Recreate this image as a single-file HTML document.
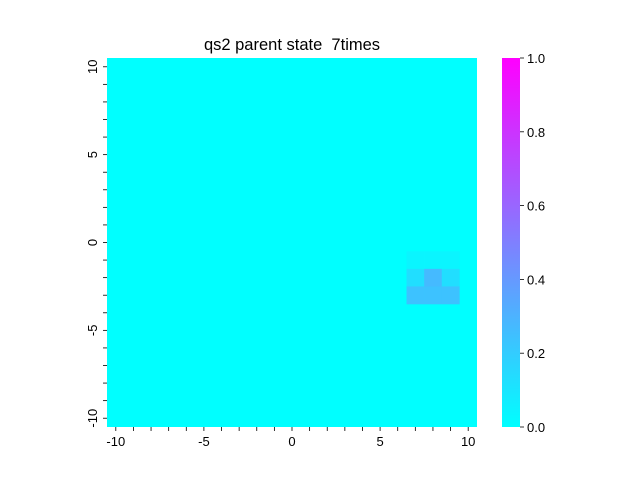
<!DOCTYPE html>
<html><head><meta charset="utf-8"><style>body{margin:0;background:#fff}svg text{font-family:"Liberation Sans",sans-serif;fill:#000}</style></head>
<body>
<svg id="s" width="640" height="480"></svg>
<script>
const xCats=[-10,-9,-8,-7,-6,-5,-4,-3,-2,-1,0,1,2,3,4,5,6,7,8,9,10];
const yCats=[10,9,8,7,6,5,4,3,2,1,0,-1,-2,-3,-4,-5,-6,-7,-8,-9,-10];
const hotX=[7,8,9,7,8,9,7,8,9];
const hotY=[-1,-1,-1,-2,-2,-2,-3,-3,-3];
const hotV=[0.04,0.04,0.04,0.13,0.27,0.13,0.24,0.24,0.24];
const tickLabels=[-10,-5,0,5,10];
const cbTicks=[0,0.2,0.4,0.6,0.8,1.0];
const NS="http://www.w3.org/2000/svg",s=document.getElementById('s');
function el(t,a,txt){const e=document.createElementNS(NS,t);for(const k in a)e.setAttribute(k,a[k]);if(txt!=null)e.textContent=txt;s.appendChild(e);return e;}
const L=107,T=58,W=370,H=369,cw=W/21,ch=H/21;
const col=v=>`rgb(${Math.round(255*v)},${Math.round(255*(1-v))},255)`;
const xp=v=>L+(xCats.indexOf(v)+0.5)*cw, yp=v=>T+(yCats.indexOf(v)+0.5)*ch;
let r=el('rect',{x:L,y:T,width:W,height:H,fill:col(0)});

hotV.forEach((v,i)=>{const c=el('rect',{x:xp(hotX[i])-cw/2,y:yp(hotY[i])-ch/2,width:cw+0.3,height:ch+0.3,fill:col(v)});

});
xCats.forEach(v=>{el('line',{x1:xp(v),x2:xp(v),y1:T+H,y2:T+H+4,stroke:'#000','stroke-width':0.8});});
yCats.forEach(v=>{el('line',{x1:L-4,x2:L,y1:yp(v),y2:yp(v),stroke:'#000','stroke-width':0.8});});
tickLabels.forEach(v=>{let t=el('text',{x:xp(v),y:T+H+19,'font-size':13,'text-anchor':'middle'},v);

let u=el('text',{x:0,y:0,'font-size':13,'text-anchor':'middle',transform:`translate(${L-10},${yp(v)}) rotate(-90)`},v);
});
let ti=el('text',{x:292,y:50,'font-size':16.5,'text-anchor':'middle',style:'white-space:pre'},'qs2 parent state  7times');

const cbL=502,cbW=18;
const g=document.createElementNS(NS,'linearGradient');g.id='cg';g.setAttribute('x1',0);g.setAttribute('y1',1);g.setAttribute('x2',0);g.setAttribute('y2',0);
[0,1].forEach(o=>{const st=document.createElementNS(NS,'stop');st.setAttribute('offset',o);st.setAttribute('stop-color',col(o));g.appendChild(st);});
const d=document.createElementNS(NS,'defs');d.appendChild(g);s.appendChild(d);
let cb=el('rect',{x:cbL,y:T,width:cbW,height:H,fill:'url(#cg)'});

cbTicks.forEach(v=>{const y=T+H-v*H;el('line',{x1:cbL+cbW,x2:cbL+cbW+4,y1:y,y2:y,stroke:'#000','stroke-width':0.8});
let t=el('text',{x:cbL+cbW+7,y:y+5,'font-size':13},v.toFixed(1));
});
</script>
</body></html>
